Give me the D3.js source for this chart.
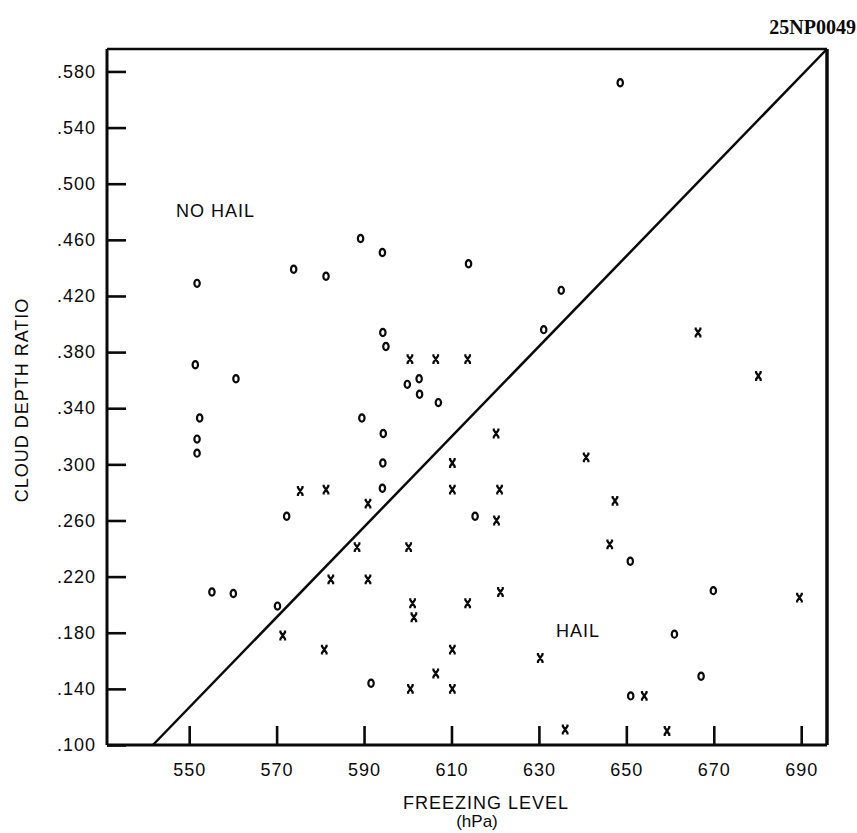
<!DOCTYPE html>
<html>
<head>
<meta charset="utf-8">
<script src="https://cdn.jsdelivr.net/npm/d3@7"></script>
<style>
    body { margin: 0; background: #fff; }
    text { font-family: "Liberation Sans", Arial, sans-serif; fill: #0a0a0a; }
</style>
</head>
<body>
<svg id="chart" width="857" height="833"></svg>
<script>
// freezing level (hPa), cloud depth ratio -- "o" points (no hail)
var noHailPoints = [
    [551.8, .429], [573.9, .439], [581.3, .434], [589.2, .461], [594.2, .451],
    [613.9, .443], [594.3, .394], [648.6, .572], [635.1, .424], [631.1, .396],
    [595.0, .384], [551.4, .371], [560.7, .361], [599.9, .357], [602.6, .361],
    [602.7, .350], [607.0, .344], [552.4, .333], [589.5, .333], [551.8, .318],
    [551.8, .308], [594.4, .322], [594.3, .301], [594.2, .283], [572.3, .263],
    [615.4, .263], [555.2, .209], [560.1, .208], [570.2, .199], [591.6, .144],
    [650.9, .231], [669.9, .210], [661.0, .179], [667.1, .149], [651.0, .135]
];

// "x" points (hail)
var hailPoints = [
    [600.5, .375], [606.4, .375], [613.7, .375], [610.2, .301], [610.2, .282],
    [575.4, .281], [581.3, .282], [590.9, .272], [588.4, .241], [600.2, .241],
    [582.4, .218], [590.9, .218], [601.1, .201], [601.4, .191], [613.7, .201],
    [571.4, .178], [580.9, .168], [610.2, .168], [606.4, .151], [600.6, .140],
    [610.2, .140], [666.4, .394], [680.2, .363], [620.2, .322], [640.8, .305],
    [621.0, .282], [647.4, .274], [620.3, .260], [646.2, .243], [621.2, .209],
    [689.6, .205], [630.3, .162], [654.1, .135], [636.0, .111], [659.3, .110]
];

// dividing line between hail / no hail
var dividerLine = [[541.7, .100], [695.9, .596]];

var xTickValues = [550, 570, 590, 610, 630, 650, 670, 690];
var xTickLabels = ["550", "570", "590", "610", "630", "650", "670", "690"];
var yTickValues = [.100, .140, .180, .220, .260, .300, .340, .380, .420, .460, .500, .540, .580];
var yTickLabels = [".100", ".140", ".180", ".220", ".260", ".300", ".340", ".380", ".420", ".460", ".500", ".540", ".580"];

var xDomain = [531.2, 695.9];
var yDomain = [.100, .596];

function drawChart() {
    var svg = d3.select("#chart");

    var margin = {top: 49, right: 30, bottom: 88, left: 107},
        width = 857 - margin.left - margin.right,
        height = 833 - margin.top - margin.bottom;

    var x = d3.scaleLinear().domain(xDomain).range([0, width]);
    var y = d3.scaleLinear().domain(yDomain).range([height, 0]);

    var g = svg.append("g")
        .attr("transform", "translate(" + margin.left + "," + margin.top + ")");

    // x axis, ticks pointing up into the plot
    var xAxis = d3.axisBottom(x)
        .tickValues(xTickValues)
        .tickFormat(function(d, i) { return xTickLabels[i]; })
        .tickSize(-19)
        .tickPadding(18);

    var gx = g.append("g")
        .attr("transform", "translate(0," + height + ")")
        .call(xAxis);
    gx.select(".domain").remove();
    gx.selectAll("line").attr("stroke", "#0a0a0a").attr("stroke-width", 2.6);
    gx.selectAll("text")
        .attr("fill", "#0a0a0a")
        .style("font-size", "18px")
        .style("letter-spacing", "1px");

    // y axis, ticks pointing right
    var yAxis = d3.axisLeft(y)
        .tickValues(yTickValues)
        .tickFormat(function(d, i) { return yTickLabels[i]; })
        .tickSize(-19)
        .tickPadding(11);

    var gy = g.append("g").call(yAxis);
    gy.select(".domain").remove();
    gy.selectAll("line").attr("stroke", "#0a0a0a").attr("stroke-width", 2.6);
    gy.selectAll("text")
        .attr("fill", "#0a0a0a")
        .style("font-size", "18px")
        .style("letter-spacing", "1px");

    // frame
    g.append("line").attr("x1", 0).attr("x2", width).attr("y1", 0).attr("y2", 0)
        .attr("stroke", "#0a0a0a").attr("stroke-width", 2.5);
    g.append("line").attr("x1", 0).attr("x2", width).attr("y1", height).attr("y2", height)
        .attr("stroke", "#0a0a0a").attr("stroke-width", 3);
    g.append("line").attr("x1", 0).attr("x2", 0).attr("y1", 0).attr("y2", height)
        .attr("stroke", "#0a0a0a").attr("stroke-width", 3);
    g.append("line").attr("x1", width).attr("x2", width).attr("y1", 0).attr("y2", height)
        .attr("stroke", "#0a0a0a").attr("stroke-width", 3.5);

    // dividing line
    var line = d3.line()
        .x(function(d) { return x(d[0]); })
        .y(function(d) { return y(d[1]); });

    g.append("path")
        .datum(dividerLine)
        .attr("d", line)
        .attr("fill", "none")
        .attr("stroke", "#0a0a0a")
        .attr("stroke-width", 2.5);

    // no hail: small open "o"
    g.selectAll(".nohail")
        .data(noHailPoints)
        .enter().append("ellipse")
        .attr("class", "nohail")
        .attr("cx", function(d) { return x(d[0]); })
        .attr("cy", function(d) { return y(d[1]); })
        .attr("rx", 2.7)
        .attr("ry", 3.6)
        .attr("fill", "none")
        .attr("stroke", "#0a0a0a")
        .attr("stroke-width", 2.2);

    // hail: small bold "x"
    g.selectAll(".hail")
        .data(hailPoints)
        .enter().append("path")
        .attr("class", "hail")
        .attr("transform", function(d) { return "translate(" + x(d[0]) + "," + y(d[1]) + ")"; })
        .attr("d", "M-2.6,-3.8L2.6,3.8M2.6,-3.8L-2.6,3.8M-3.4,-3.8H-1.2M1.2,-3.8H3.4M-3.4,3.8H-1.2M1.2,3.8H3.4")
        .attr("fill", "none")
        .attr("stroke", "#0a0a0a")
        .attr("stroke-width", 2.3);

    // region labels
    g.append("text")
        .attr("x", 176 - margin.left)
        .attr("y", 217 - margin.top)
        .style("font-size", "18px")
        .style("letter-spacing", "1px")
        .text("NO HAIL");

    g.append("text")
        .attr("x", 556 - margin.left)
        .attr("y", 637 - margin.top)
        .style("font-size", "18px")
        .style("letter-spacing", "1px")
        .text("HAIL");

    // axis titles
    svg.append("text")
        .attr("x", 486)
        .attr("y", 809)
        .attr("text-anchor", "middle")
        .style("font-size", "18px")
        .style("letter-spacing", "1px")
        .text("FREEZING LEVEL");

    svg.append("text")
        .attr("x", 477)
        .attr("y", 827)
        .attr("text-anchor", "middle")
        .style("font-size", "17px")
        .text("(hPa)");

    svg.append("text")
        .attr("transform", "translate(28,400) rotate(-90)")
        .attr("text-anchor", "middle")
        .style("font-size", "18px")
        .style("letter-spacing", "1px")
        .text("CLOUD DEPTH RATIO");

    // report id, top right
    svg.append("text")
        .attr("x", 856)
        .attr("y", 34)
        .attr("text-anchor", "end")
        .style("font-family", "'Liberation Serif', 'Times New Roman', serif")
        .style("font-weight", "bold")
        .style("font-size", "20px")
        .text("25NP0049");
}

drawChart();
</script>
</body>
</html>
